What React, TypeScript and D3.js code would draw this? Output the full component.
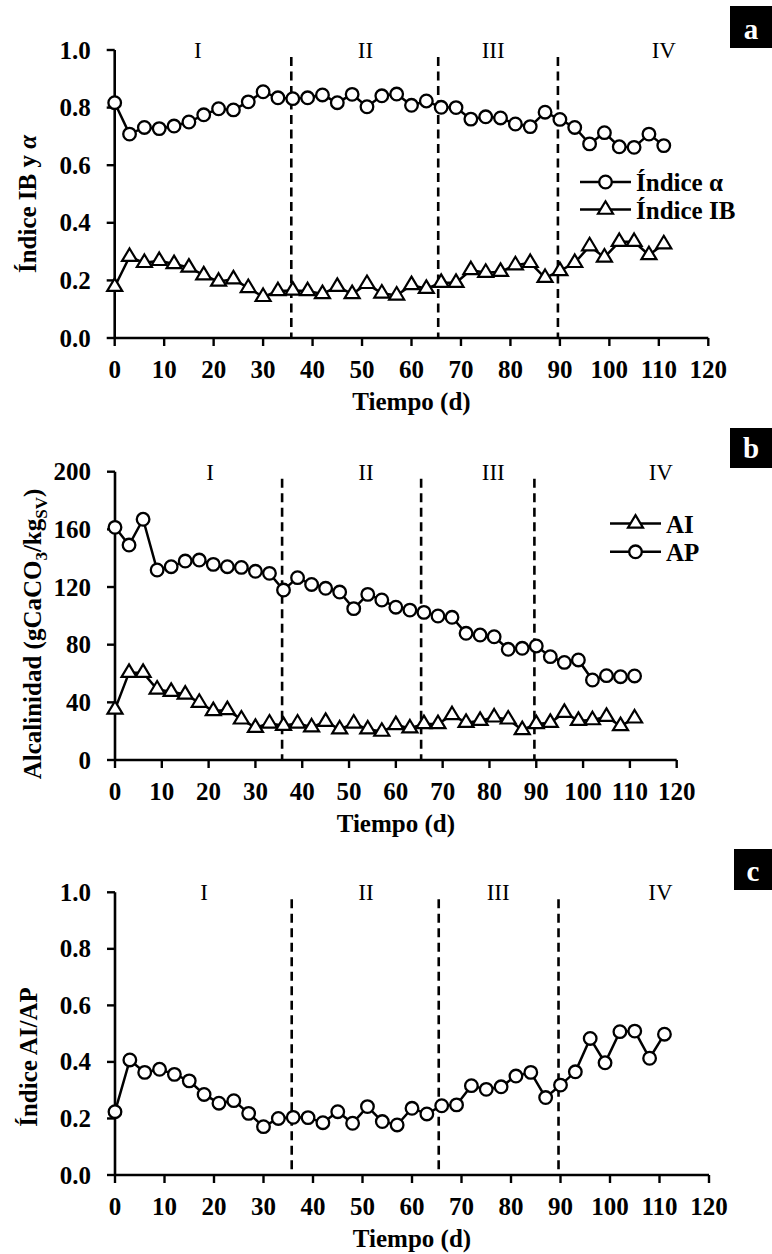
import React from "react";
import * as d3 from "d3";

const days = [0, 3, 6, 9, 12, 15, 18, 21, 24, 27, 30, 33, 36, 39, 42, 45, 48, 51, 54, 57, 60, 63, 66, 69, 72, 75, 78, 81, 84, 87, 90, 93, 96, 99, 102, 105, 108, 111];

const indiceAlpha = [0.817, 0.708, 0.731, 0.727, 0.736, 0.75, 0.775, 0.796, 0.792, 0.82, 0.855, 0.834, 0.831, 0.834, 0.844, 0.817, 0.846, 0.803, 0.841, 0.847, 0.808, 0.823, 0.801, 0.8, 0.76, 0.768, 0.764, 0.743, 0.734, 0.784, 0.759, 0.731, 0.674, 0.713, 0.664, 0.662, 0.708, 0.668];
const indiceIB = [0.178, 0.282, 0.261, 0.268, 0.257, 0.245, 0.218, 0.196, 0.204, 0.174, 0.143, 0.163, 0.165, 0.163, 0.153, 0.178, 0.153, 0.188, 0.155, 0.148, 0.184, 0.171, 0.192, 0.192, 0.236, 0.227, 0.23, 0.253, 0.261, 0.209, 0.233, 0.261, 0.319, 0.28, 0.334, 0.334, 0.288, 0.326];

const alcAP = [161.4, 149.1, 167, 131.8, 134.1, 138, 138.7, 135.7, 134.1, 133.6, 130.9, 129.5, 117.9, 126.5, 121.8, 119.1, 116.5, 105, 114.9, 111, 106, 104, 102.4, 99.9, 99, 87.9, 86.7, 85.5, 76.8, 77.5, 79.1, 71.7, 67.7, 69.4, 55.5, 58.5, 57.8, 58.3];
const alcAI = [35.1, 60.6, 60.6, 49, 47.4, 45.5, 39.8, 34, 34.7, 28.2, 22.4, 25.4, 23.8, 25.4, 22.7, 26.6, 21.3, 25.4, 21.3, 19.7, 24.3, 22, 25, 25, 31.2, 25.9, 27.3, 29.6, 28.2, 20.8, 25, 25.9, 32.8, 27.3, 27.7, 30, 23.6, 28.9];

const ratioAIAP = [0.224, 0.407, 0.363, 0.374, 0.356, 0.333, 0.285, 0.254, 0.263, 0.218, 0.171, 0.2, 0.204, 0.203, 0.185, 0.224, 0.183, 0.242, 0.189, 0.177, 0.236, 0.216, 0.245, 0.248, 0.316, 0.303, 0.312, 0.35, 0.363, 0.274, 0.318, 0.365, 0.483, 0.397, 0.507, 0.509, 0.413, 0.498];

const xTicks = [0, 10, 20, 30, 40, 50, 60, 70, 80, 90, 100, 110, 120];
const yTicksIndex = [0, 0.2, 0.4, 0.6, 0.8, 1.0];
const yTicksAlk = [0, 40, 80, 120, 160, 200];
const phaseBounds = [35.7, 65.4, 89.6];
const phaseNames = ["I", "II", "III", "IV"];
const phaseLabelDaysA = [16.8, 50.7, 76.5, 111];
const phaseLabelDaysB = [20.3, 53.6, 80.8, 116.6];
const phaseLabelDaysC = [18, 50.7, 77.4, 110.2];

const FONT = "'Liberation Serif', 'Times New Roman', Times, serif";
const FS = 25;

type Series = { values: number[]; marker: "circle" | "triangle" };

function triPath(w: number, h: number) {
  return `M0,${-(2 * h) / 3}L${w / 2},${h / 3}L${-w / 2},${h / 3}Z`;
}

function Marker({ kind, x, y }: { kind: string; x: number; y: number }) {
  if (kind === "circle") {
    return <circle cx={x} cy={y} r={6.3} fill="#fff" stroke="#000" strokeWidth={2.3} />;
  }
  return (
    <path d={triPath(15, 12.5)} transform={`translate(${x},${y})`} fill="#fff" stroke="#000" strokeWidth={2.2} strokeLinejoin="miter" />
  );
}

function Panel(props: {
  x0: number; x1: number; yTop: number; yBot: number;
  yDomain: [number, number]; yTicks: number[]; yFmt: (v: number) => string;
  series: Series[]; labelDays: number[];
  yTitle: React.ReactNode; yTitleX: number; yTitleY: number;
  letter: string; boxX: number; boxY: number; boxW: number; boxH: number; letterBase: number;
  legend?: { label: string; marker: string }[]; legX?: number; legY?: number; legGap?: number;
}) {
  const p = props;
  const x = d3.scaleLinear().domain([0, 120]).range([p.x0, p.x1]);
  const y = d3.scaleLinear().domain(p.yDomain).range([p.yBot, p.yTop]);
  const line = d3.line<number>().x((_, i) => x(days[i])).y((v) => y(v));
  return (
    <g>
      {/* phase dashed lines */}
      {phaseBounds.map((d, i) => (
        <line key={"ph" + i} x1={x(d)} x2={x(d)} y1={p.yTop + 7} y2={p.yBot} stroke="#000" strokeWidth={2.6} strokeDasharray="9,5.5" />
      ))}
      {phaseNames.map((n, i) => (
        <text key={"pn" + i} x={x(p.labelDays[i])} y={p.yTop + 8} textAnchor="middle" fontFamily={FONT} fontSize={23}>{n}</text>
      ))}
      {/* axes */}
      <line x1={p.x0} x2={p.x0} y1={p.yTop} y2={p.yBot} stroke="#000" strokeWidth={2.6} />
      <line x1={p.x0} x2={p.x1} y1={p.yBot} y2={p.yBot} stroke="#000" strokeWidth={2.6} />
      {xTicks.map((t) => (
        <g key={"xt" + t}>
          <line x1={x(t)} x2={x(t)} y1={p.yBot} y2={p.yBot + 8} stroke="#000" strokeWidth={2.4} />
          <text x={x(t)} y={p.yBot + 40} textAnchor="middle" fontFamily={FONT} fontWeight="bold" fontSize={FS}>{t}</text>
        </g>
      ))}
      {p.yTicks.map((t) => (
        <g key={"yt" + t}>
          <line x1={p.x0 - 8} x2={p.x0} y1={y(t)} y2={y(t)} stroke="#000" strokeWidth={2.4} />
          <text x={p.x0 - 24} y={y(t)} dy="0.34em" textAnchor="end" fontFamily={FONT} fontWeight="bold" fontSize={FS}>{p.yFmt(t)}</text>
        </g>
      ))}
      <text x={(p.x0 + p.x1) / 2} y={p.yBot + 72} textAnchor="middle" fontFamily={FONT} fontWeight="bold" fontSize={FS}>Tiempo (d)</text>
      <text transform={`translate(${p.yTitleX},${p.yTitleY}) rotate(-90)`} textAnchor="middle" fontFamily={FONT} fontWeight="bold" fontSize={FS}>{p.yTitle}</text>
      {/* series */}
      {p.series.map((s, si) => (
        <g key={"s" + si}>
          <path d={line(s.values) || ""} fill="none" stroke="#000" strokeWidth={2.5} />
          {s.values.map((v, i) => (
            <Marker key={i} kind={s.marker} x={x(days[i])} y={y(v)} />
          ))}
        </g>
      ))}
      {/* legend */}
      {p.legend && p.legend.map((l, i) => {
        const ly = (p.legY as number) + i * (p.legGap as number);
        const lx = p.legX as number;
        return (
          <g key={"lg" + i}>
            <line x1={lx} x2={lx + 51} y1={ly} y2={ly} stroke="#000" strokeWidth={2.5} />
            <Marker kind={l.marker} x={lx + 25.5} y={ly} />
            <text x={lx + 56} y={ly + 9} fontFamily={FONT} fontWeight="bold" fontSize={FS}>{l.label}</text>
          </g>
        );
      })}
      {/* panel letter */}
      <rect x={p.boxX} y={p.boxY} width={p.boxW} height={p.boxH} fill="#000" />
      <text x={p.boxX + p.boxW / 2} y={p.letterBase} textAnchor="middle" fontFamily={FONT} fontWeight="bold" fontSize={29} fill="#fff">{p.letter}</text>
    </g>
  );
}

export default function App() {
  const f1 = d3.format(".1f");
  const f0 = d3.format("d");
  return (
    <svg width={772} height={1254} style={{ position: "absolute", left: 0, top: 0, background: "#fff" }}>
      <rect x={0} y={0} width={772} height={1254} fill="#fff" />
      <Panel
        x0={114.7} x1={708.3} yTop={50} yBot={338}
        yDomain={[0, 1]} yTicks={yTicksIndex} yFmt={f1}
        series={[{ values: indiceAlpha, marker: "circle" }, { values: indiceIB, marker: "triangle" }]}
        labelDays={phaseLabelDaysA}
        yTitle={<>Índice IB y <tspan fontStyle="italic">α</tspan></>} yTitleX={36} yTitleY={204}
        letter="a" boxX={730} boxY={6} boxW={42} boxH={42} letterBase={39}
        legend={[{ label: "Índice α", marker: "circle" }, { label: "Índice IB", marker: "triangle" }]}
        legX={580} legY={182} legGap={27.6}
      />
      <Panel
        x0={115} x1={676.7} yTop={471.7} yBot={760}
        yDomain={[0, 200]} yTicks={yTicksAlk} yFmt={f0}
        series={[{ values: alcAP, marker: "circle" }, { values: alcAI, marker: "triangle" }]}
        labelDays={phaseLabelDaysB}
        yTitle={<>Alcalinidad (gCaCO<tspan dy="6" fontSize={17}>3</tspan><tspan dy="-6">/kg</tspan><tspan dy="6" fontSize={17}>SV</tspan><tspan dy="-6">)</tspan></>}
        yTitleX={41} yTitleY={634}
        letter="b" boxX={730} boxY={428} boxW={42} boxH={40} letterBase={458}
        legend={[{ label: "AI", marker: "triangle" }, { label: "AP", marker: "circle" }]}
        legX={610} legY={523.5} legGap={28.3}
      />
      <Panel
        x0={115} x1={709} yTop={892.3} yBot={1175}
        yDomain={[0, 1]} yTicks={yTicksIndex} yFmt={f1}
        series={[{ values: ratioAIAP, marker: "circle" }]}
        labelDays={phaseLabelDaysC}
        yTitle={<>Índice AI/AP</>} yTitleX={37} yTitleY={1057}
        letter="c" boxX={734} boxY={849} boxW={38} boxH={41} letterBase={881}
      />
    </svg>
  );
}
